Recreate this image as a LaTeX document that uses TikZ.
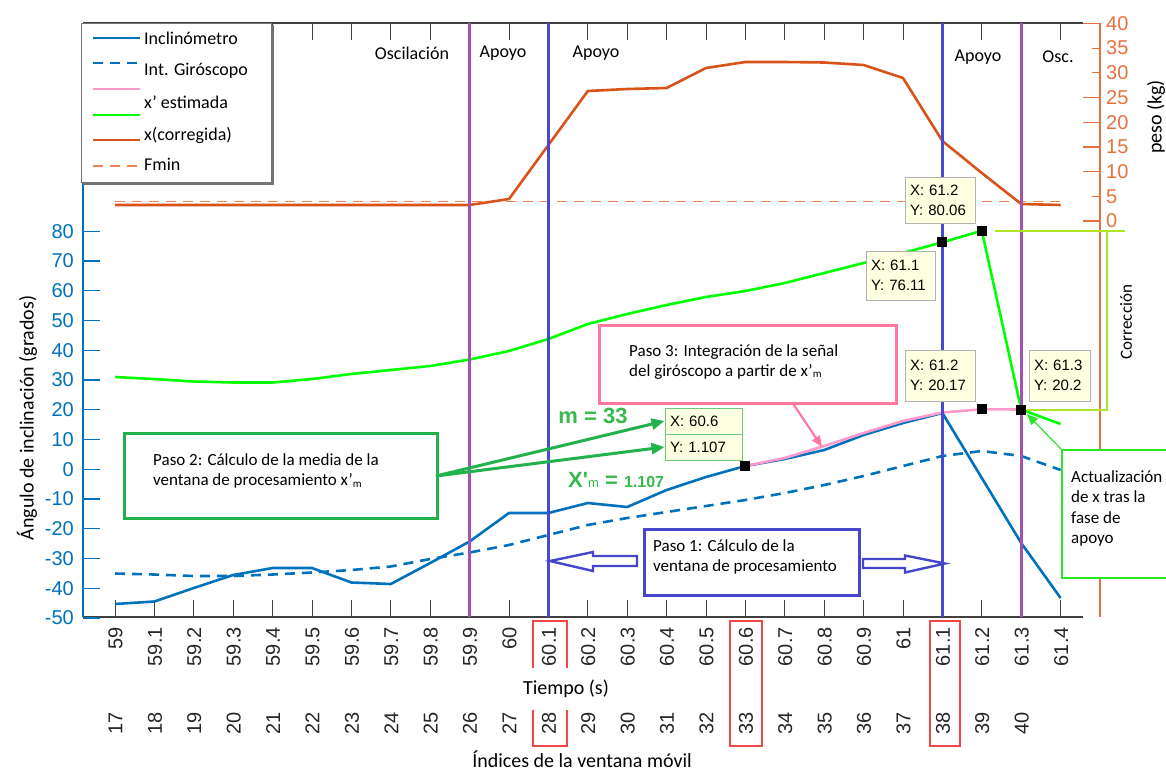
\documentclass[tikz,border=0pt]{standalone}
\usepackage{fontspec}
\setmainfont{Carlito}
\newfontfamily\arialf{Liberation Sans}
\usetikzlibrary{arrows.meta}
\newcommand\myfs[2]{\fontsize{#1}{#2}\selectfont}
\newcommand\subm{\raisebox{-1.5pt}{\myfs{11}{11}m}}
\definecolor{mblue}{RGB}{0,114,189}
\definecolor{morange}{RGB}{217,83,25}
\definecolor{axorange}{RGB}{232,112,64}
\definecolor{fminc}{RGB}{238,130,80}
\definecolor{mgreen}{RGB}{0,255,0}
\definecolor{mpink}{RGB}{255,153,204}
\definecolor{vpurple}{RGB}{165,80,180}
\definecolor{vblue}{RGB}{72,72,210}
\definecolor{boxgreen}{RGB}{34,177,76}
\definecolor{boxpink}{RGB}{255,120,160}
\definecolor{boxblue}{RGB}{70,70,205}
\definecolor{ygreen}{RGB}{175,228,40}
\definecolor{tipfill}{RGB}{255,255,225}
\definecolor{txtgreen}{RGB}{55,185,75}
\definecolor{redbox}{RGB}{240,70,70}
\definecolor{tipgreen}{RGB}{110,200,120}
\definecolor{actgreen}{RGB}{40,230,40}
\begin{document}
\begin{tikzpicture}[x=1pt,y=-1pt,
  curve/.style={line width=2.6pt, line join=round},
  vline/.style={line width=3pt},
  xlab/.style={rotate=90, anchor=east, inner sep=0pt, font=\arialf\myfs{20}{20}, text=black!85},
  ylab/.style={anchor=east, inner sep=0pt, font=\arialf\myfs{20}{20}, text=mblue},
  rlab/.style={anchor=west, inner sep=0pt, font=\arialf\myfs{20}{20}, text=axorange},
  toplab/.style={font=\myfs{18}{18}, inner sep=0pt},
  legtxt/.style={anchor=west, font=\myfs{18}{18}, inner sep=0pt},
  tipbox/.style={draw=black!30, fill=tipfill, font=\arialf\myfs{15}{20}, align=left, inner xsep=5pt, inner ysep=0pt},
  mk/.style={fill=black, minimum size=10pt, inner sep=0pt},
  btxt/.style={anchor=west, align=left, font=\myfs{17}{20}, inner sep=0pt},
  tick/.style={line width=1pt, black!75},
]
\useasboundingbox (0,0) rectangle (1166,771);

% ---------- axes ----------
\draw[line width=1.2pt, black!75] (83,23) -- (1083,23);
\draw[line width=1.2pt, black!75] (83,617) -- (1083,617);
\draw[line width=1.5pt, mblue] (83,182) -- (83,617);
\draw[line width=1.5pt, axorange] (1100,23) -- (1100,617);
\foreach \k in {0,...,24}{
  \draw[tick] ({115+39.4*\k},617) -- ({115+39.4*\k},600);
  \draw[tick] ({115+39.4*\k},23) -- ({115+39.4*\k},40);
}
% left ticks
\foreach \v in {-50,-40,...,80}{
  \draw[line width=1.2pt, mblue] (83,{618-(\v+50)*2.975}) -- (100,{618-(\v+50)*2.975});
  \node[ylab] (yl\v) at (74,{618-(\v+50)*2.975}) {\v};
}
% right ticks
\foreach \w/\len in {0/17,5/8,10/17,15/17,20/17,25/17,30/8,35/8,40/17}{
  \draw[line width=1.2pt, axorange] ({1100-\len},{221-4.94*\w}) -- (1100,{221-4.94*\w});
  \node[rlab] (rl\w) at (1106,{221-4.94*\w}) {\w};
}
\node[rotate=90, font=\myfs{20}{20}, inner sep=0pt] (peso) at (1156,117) {peso (kg)};
\node[rotate=90, font=\myfs{20}{20}, inner sep=0pt] (ylabel) at (27,418) {Ángulo de inclinación (grados)};

% x tick labels
\foreach \k/\lab in {0/59,1/59.1,2/59.2,3/59.3,4/59.4,5/59.5,6/59.6,7/59.7,8/59.8,9/59.9,10/60,11/60.1,12/60.2,13/60.3,14/60.4,15/60.5,16/60.6,17/60.7,18/60.8,19/60.9,20/61,21/61.1,22/61.2,23/61.3,24/61.4}{
  \node[xlab] (xt\k) at ({115.5+39.4*\k},627) {\lab};
}
\foreach \k in {0,...,23}{
  \pgfmathtruncatemacro\idx{17+\k}
  \node[xlab] (xi\k) at ({115.5+39.4*\k},712) {\idx};
}
\node[font=\myfs{20}{20}, inner sep=0pt] (tiempo) at (566,689) {Tiempo (s)};
\node[font=\myfs{20}{20}, inner sep=0pt] (indices) at (582,759) {Índices de la ventana móvil};

% red boxes
\draw[redbox, line width=1.2pt] (533,668) -- (533,621) -- (567,621) -- (567,668);
\draw[redbox, line width=1.2pt] (533,710) -- (533,746) -- (567,746) -- (567,710);
\draw[redbox, line width=1.2pt] (730,621) rectangle (762,746);
\draw[redbox, line width=1.2pt] (930,621) rectangle (960,746);

% ---------- data ----------
\draw[fminc, line width=1.5pt, dash pattern=on 10pt off 7pt] (115,201.5) -- (1060,201.5);
\draw[curve, morange] plot coordinates {(115,205) (469.6,205) (509,199) (587.8,91) (627.2,89) (666.6,88) (706,68) (745.4,62) (784.8,62) (824.2,62.5) (863.6,65) (903,78) (942.4,141) (981.8,173) (1021.2,204) (1060.6,205)};
\draw[curve, mgreen] plot coordinates {(115,377) (154.4,379) (193.8,381.5) (233.2,382.5) (272.6,382.5) (312,379) (351.4,374) (390.8,370) (430.2,366) (469.6,359.5) (509,351) (548.4,339) (587.8,324) (627.2,314) (666.6,305) (706,297) (745.4,291) (784.8,283) (824.2,273) (863.6,263) (903,253) (942.4,242.3) (981.8,230.7) (1021.2,409.5) (1060.6,424)};
\draw[curve, mblue, dash pattern=on 10pt off 7pt] plot coordinates {(115,573.5) (154.4,574.5) (193.8,576) (233.2,576) (272.6,574.5) (312,572.5) (351.4,570) (390.8,566.5) (430.2,559) (469.6,552.5) (509,545) (548.4,535) (587.8,525) (627.2,518) (666.6,512) (706,506) (745.4,500) (784.8,493) (824.2,485) (863.6,476) (903,466) (942.4,456) (981.8,451) (1021.2,456) (1060.6,470)};
\draw[curve, mblue] plot coordinates {(115,604) (154.4,601.5) (193.8,588) (233.2,575) (272.6,568) (312,568) (351.4,582.5) (390.8,584) (430.2,563) (469.6,541.5) (509,513) (548.4,513) (587.8,503) (627.2,507) (666.6,490) (706,477) (745.4,466) (784.8,459) (824.2,450) (863.6,435) (903,423) (942.4,413) (981.8,478) (1021.2,543) (1060.6,598)};
\draw[curve, mpink] plot coordinates {(745.4,466) (784.8,458) (824.2,446) (863.6,433) (903,421) (942.4,412.5) (981.8,409.3) (1021.2,409.5)};

% ---------- vertical phase lines ----------
\draw[vline, vpurple] (469.6,23) -- (469.6,617);
\draw[vline, vblue] (548.4,23) -- (548.4,617);
\draw[vline, vblue] (942.4,23) -- (942.4,617);
\draw[vline, vpurple] (1021.2,23) -- (1021.2,617);

\node[toplab] (osc1) at (412,53) {Oscilación};
\node[toplab] (apo1) at (503,53) {Apoyo};
\node[toplab] (apo2) at (596,53) {Apoyo};
\node[toplab] (apo3) at (978,57) {Apoyo};
\node[toplab] (osc2) at (1058,57) {Osc.};

% ---------- legend ----------
\draw[black!55, line width=1.8pt] (83,184) -- (273,184) -- (273,25);
\node[draw=black!55, fill=white, line width=0.8pt, minimum width=190pt, minimum height=159pt, anchor=north west, inner sep=0pt] (leg) at (81,23) {};
\draw[mblue, line width=2.6pt] (93,38) -- (140,38);
\node[legtxt] (l1) at (144,38) {Inclinómetro};
\draw[mblue, line width=2.6pt, dash pattern=on 10pt off 7pt] (93,63) -- (140,63);
\node[legtxt] (l2) at (144,71) {Int. Giróscopo};
\draw[mpink, line width=2.6pt] (93,89) -- (140,89);
\node[legtxt] (l3) at (144,102) {x’ estimada};
\draw[mgreen, line width=2.6pt] (93,115) -- (140,115);
\node[legtxt] (l4) at (144,135) {x(corregida)};
\draw[morange, line width=2.6pt] (93,140) -- (140,140);
\node[legtxt] (l5) at (144,164) {Fmin};
\draw[fminc, line width=1.3pt, dash pattern=on 10pt off 7pt] (93,166) -- (140,166);

% ---------- correction bracket ----------
\draw[ygreen, line width=1.6pt] (995,230.7) -- (1125,230.7);
\draw[ygreen, line width=1.8pt] (1107,230.7) -- (1107,410) -- (1027,410);
\node[rotate=90, font=\myfs{17}{17}, inner sep=0pt] (corr) at (1126,322) {Corrección};

% ---------- markers ----------
\node[mk] (m1) at (745.4,466) {};
\node[mk] (m2) at (942.4,242.3) {};
\node[mk] (m3) at (981.8,230.7) {};
\node[mk] (m4) at (981.8,409.3) {};
\node[mk] (m5) at (1021.2,409.5) {};

% ---------- data tips ----------
\node[tipbox, text width=60pt, minimum height=46pt] (t1) at (940,200) {X: 61.2\\Y: 80.06};
\node[tipbox, text width=59pt, minimum height=49pt] (t2) at (900.5,275.5) {X: 61.1\\Y: 76.11};
\node[tipbox, text width=60pt, minimum height=51pt] (t3) at (940,375.5) {X: 61.2\\Y: 20.17};
\node[tipbox, text width=51pt, minimum height=51pt] (t4) at (1059.5,375.5) {X: 61.3\\Y: 20.2};
\node[tipbox, draw=tipgreen, text width=67pt, minimum height=26pt, line width=1pt] (t5a) at (703.5,421) {X: 60.6};
\node[tipbox, draw=tipgreen, text width=67pt, minimum height=26pt, line width=1pt] (t5b) at (703.5,447) {Y: 1.107};

% ---------- green labels ----------
\node[font=\arialf\bfseries\myfs{22}{22}, text=txtgreen, inner sep=0pt] (mlab) at (593,416) {m = 33};
\node[anchor=west, text=txtgreen, inner sep=0pt] (xmlab) at (568,480) {{\arialf\bfseries\myfs{22}{22}X'}{\arialf\myfs{13}{13}m}{\arialf\bfseries\myfs{22}{22} = }{\arialf\bfseries\myfs{16}{16}1.107}};

% ---------- Paso 2 ----------
\node[draw=boxgreen, fill=white, line width=3pt, minimum width=313pt, minimum height=85pt, anchor=north west, inner sep=0pt] (p2) at (123,432) {};
\node[btxt] (p2t) at (153,471) {Paso 2: Cálculo de la media de la\\ventana de procesamiento x’\subm};
\coordinate (p2o) at (436,476);
\draw[boxgreen, line width=3pt, -{Triangle[length=13pt,width=11pt]}] (p2o) -- (t5a.west);
\draw[boxgreen, line width=3pt, -{Triangle[length=13pt,width=11pt]}] (p2o) -- (t5b.west);

% ---------- Paso 3 ----------
\node[draw=boxpink, fill=white, line width=3pt, minimum width=297pt, minimum height=78pt, anchor=north west, inner sep=0pt] (p3) at (598,324) {};
\node[btxt] (p3t) at (629,361.7) {Paso 3: Integración de la señal\\del giróscopo a partir de x’\subm};
\coordinate (p3s) at (792,402);
\coordinate (p3e) at (822,447);
\draw[boxpink, line width=2.2pt, -{Triangle[length=11pt,width=9pt]}] (p3s) -- (p3e);

% ---------- Paso 1 ----------
\node[draw=boxblue, fill=white, line width=2.6pt, minimum width=215pt, minimum height=66pt, anchor=north west, inner sep=0pt] (p1) at (643,528) {};
\node[btxt] (p1t) at (653,556.5) {Paso 1: Cálculo de la\\ventana de procesamiento};
\draw[boxblue, line width=2.4pt, fill=white, line join=miter] (550,561) -- (593,552) -- (593,556) -- (637,556) -- (637,566) -- (593,566) -- (593,571) -- cycle;
\draw[boxblue, line width=2.4pt, fill=white, line join=miter] (945,563.5) -- (905,555.5) -- (905,559) -- (863,559) -- (863,568) -- (905,568) -- (905,572.5) -- cycle;

% ---------- Actualizacion ----------
\node[draw=actgreen, fill=white, line width=1.5pt, minimum width=120pt, minimum height=128pt, anchor=north west, inner sep=0pt] (act) at (1061,449) {};
\node[anchor=north west, align=left, font=\myfs{17}{20.5}, inner sep=0pt] (actt) at (1071,470) {Actualización\\de x tras la\\fase de\\apoyo};
\coordinate (acttip) at (1027,414);
\draw[actgreen, line width=1.2pt, -{Triangle[length=11pt,width=9pt]}] (act.north west) -- (acttip);
\end{tikzpicture}
\end{document}
